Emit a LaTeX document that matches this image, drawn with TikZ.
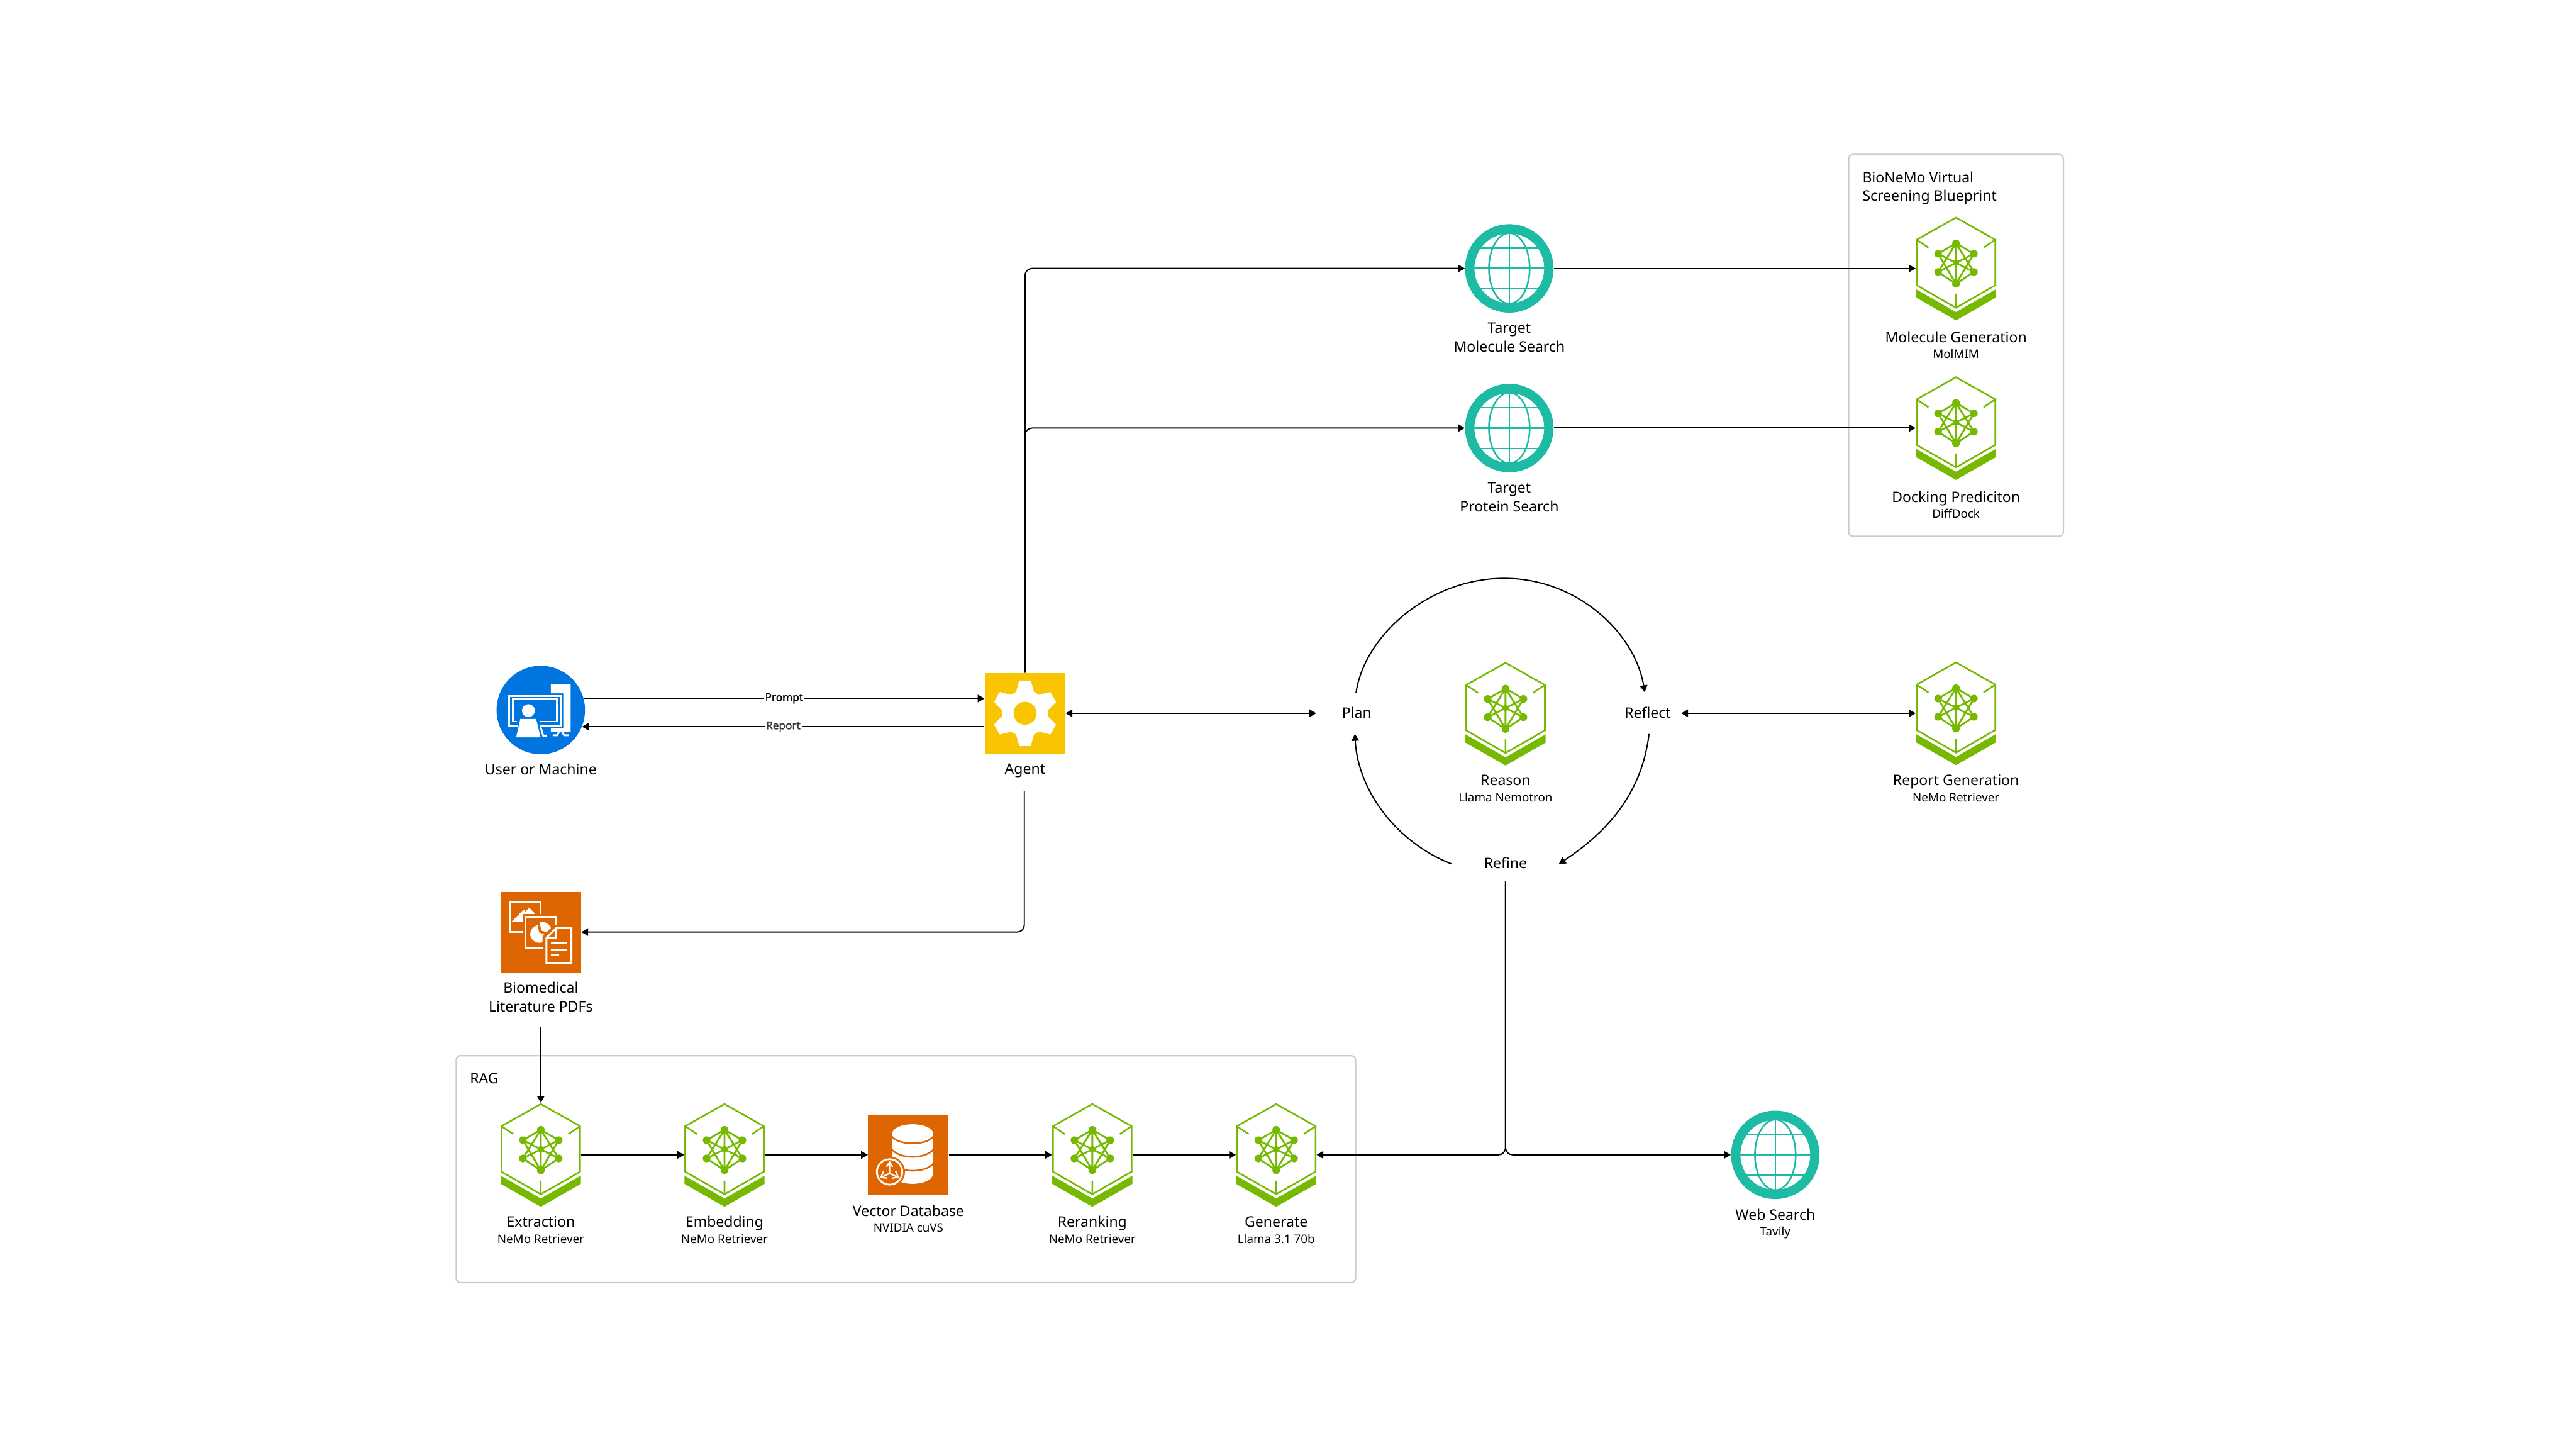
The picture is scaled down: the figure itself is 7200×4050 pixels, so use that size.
\documentclass[tikz,border=0pt]{standalone}
\usepackage{fontspec}
\setmainfont{Noto Sans}
\newfontfamily\edgefont[FakeBold=1.6]{Noto Sans}
\usetikzlibrary{arrows.meta}
\definecolor{nvgreen}{HTML}{76B900}
\definecolor{nvteal}{HTML}{1DBBA4}
\definecolor{nvorange}{HTML}{DF6500}
\definecolor{nvyellow}{HTML}{F9C500}
\definecolor{nvblue}{HTML}{0074DF}
\definecolor{boxgray}{HTML}{CCCCCC}
\tikzset{
  main/.style={font=\fontsize{11.5}{13}\selectfont,anchor=base,inner sep=0pt,text=black},
  sub/.style={font=\fontsize{9.4}{10}\selectfont,anchor=base,inner sep=0pt,text=black},
  grp/.style={font=\fontsize{11.5}{13}\selectfont,anchor=base west,inner sep=0pt,text=black},
  hexn/.style={rectangle,minimum width=2.24cm,minimum height=2.9cm,inner sep=0pt},
  globen/.style={circle,minimum size=2.47cm,inner sep=0pt},
  squaren/.style={rectangle,minimum size=2.25cm,inner sep=0pt},
  grpbox/.style={draw=boxgray,line width=0.04cm,rounded corners=0.12cm},
  arr/.style={draw=black,line width=0.035cm,-{Triangle[length=0.19cm,width=0.21cm]}},
  darr/.style={draw=black,line width=0.035cm,{Triangle[length=0.19cm,width=0.21cm]}-{Triangle[length=0.19cm,width=0.21cm]}},
  edgelab/.style={font=\fontsize{8.6}{10}\selectfont\edgefont,fill=white,inner sep=1pt},
  hexicon/.pic={
    \draw[nvgreen,line width=0.045cm,miter limit=10] (0,-142) -- (110,-80) -- (110,47) -- (0,110) -- (-110,47) -- (-110,-80) -- cycle;
    \draw[nvgreen,line width=0.045cm] (-110,-80) -- (-77,-58) (110,-80) -- (77,-58) (0,72) -- (0,110);
    \fill[nvgreen] (-112,58) -- (0,122) -- (112,58) -- (112,81) -- (0,145) -- (-112,81) -- cycle;
    \draw[nvgreen,line width=0.05cm] (0,-70) -- (0,43) (0,-70) -- (-50,-41) (0,-70) -- (50,-41) (0,-70) -- (-50,10) (0,-70) -- (50,10)
      (0,43) -- (-50,10) (0,43) -- (50,10) (0,43) -- (-50,-41) (0,43) -- (50,-41) (-50,-41) -- (50,10) (50,-41) -- (-50,10);
    \foreach \nx/\ny in {0/-70,-50/-41,50/-41,-50/10,50/10,0/43}{\fill[nvgreen] (\nx,\ny) circle [radius=0.107cm];}
    \fill[nvgreen] (0,-16) circle [radius=0.09cm];
  },
  globeicon/.pic={
    \begin{scope}
      \clip (0,0) circle [radius=1.0cm];
      \draw[nvteal,line width=0.045cm] (-110,0) -- (110,0) (-110,-57) -- (110,-57) (-110,57) -- (110,57) (0,-110) -- (0,110);
      \draw[nvteal,line width=0.045cm] (0,0) ellipse [x radius=0.57cm,y radius=0.985cm];
    \end{scope}
    \draw[nvteal,line width=0.26cm] (0,0) circle [radius=1.105cm];
  },
  gearicon/.pic={
    \fill[white] (-16,-91.3) -- (16,-91.3) -- (25,-59.7) -- (39,-51.3) -- (70.7,-59.3) -- (86.7,-31.7) -- (64,-8.3) -- (64,8.3) -- (86.7,31.7) -- (70.7,59.3) -- (39,51.3) -- (25,59.3) -- (16,91.3) -- (-16,91.3) -- (-25,59.3) -- (-39,51.3) -- (-70.7,59.3) -- (-86.7,31.7) -- (-64,8.3) -- (-64,-8.3) -- (-86.7,-31.7) -- (-70.7,-59.3) -- (-39,-51.3) -- (-25,-59.7) -- cycle;
    \fill[nvyellow] (0,0) circle [radius=0.32cm];
  },
  usericon/.pic={
    \begin{scope}[x=0.00333cm,y=-0.00333cm,shift={(-484,-462)}]
      \fill[white] (568,247) -- (735,247) -- (735,648) -- (568,648) -- (568,612) -- (673,612) -- (673,322) -- (568,322) -- cycle;
      \draw[white,line width=0.05cm] (584,674) -- (622,674) -- (636,648) (664,648) -- (680,674) -- (720,674);
      \draw[white,line width=0.05cm] (288,592) -- (217,592) -- (217,343) -- (652,343) -- (652,592) -- (475,592);
      \draw[white,line width=0.05cm] (284,559) -- (249,559) -- (249,373) -- (620,373) -- (620,559) -- (472,559);
      \draw[white,line width=0.05cm] (480,598) -- (504,677) -- (537,677);
      \fill[white] (380,467) circle [radius=0.18cm];
      \fill[white] (312,537) -- (445,537) -- (482,691) -- (277,691) -- cycle;
    \end{scope}
  },
  docicon/.pic={
    \begin{scope}[x=0.00333cm,y=-0.00333cm,shift={(-484.5,-462.5)}]
      \draw[white,line width=0.05cm] (331,462) -- (226,462) -- (226,206) -- (484,206) -- (484,310);
      \fill[white] (240,375) -- (340,275) -- (356,290) -- (386,258) -- (438,310) -- (331,310) -- (331,375) -- cycle;
      \draw[white,line width=0.05cm] (508,592) -- (355,592) -- (355,335) -- (613,335) -- (613,405);
      \fill[white] (458,405) .. controls (420,412) and (396,442) .. (396,478) .. controls (396,520) and (430,552) .. (470,552) .. controls (480,552) and (490,551) .. (498,548) -- (500,490) -- (513,482) -- (470,465) -- cycle;
      \fill[white] (474,381) .. controls (520,370) and (555,392) .. (569,428) -- (533,463) -- (490,450) -- cycle;
      \draw[white,line width=0.05cm,fill=nvorange] (532,510) -- (532,720) -- (742,720) -- (742,430) -- (613,430) -- cycle;
      \draw[white,line width=0.05cm] (613,430) -- (613,510) -- (532,510);
      \draw[white,line width=0.053cm] (571,559) -- (700,559) (571,607) -- (700,607) (571,655) -- (636,655);
    \end{scope}
  },
  dbicon/.pic={
    \begin{scope}[x=0.00333cm,y=-0.00333cm,shift={(-416,-410)}]
      \fill[white] (281,229) .. controls (281,187) and (357,153) .. (451.5,153) .. controls (546,153) and (622,187) .. (622,229)
        -- (622,570) .. controls (622,616) and (546,653) .. (451.5,653) .. controls (357,653) and (281,616) .. (281,570) -- cycle;
      \draw[nvorange,line width=0.045cm] (275,254) .. controls (310,298) and (380,313) .. (451.5,313) .. controls (523,313) and (593,298) .. (628,254);
      \draw[nvorange,line width=0.045cm] (275,362) .. controls (310,406) and (380,427) .. (451.5,427) .. controls (523,427) and (593,406) .. (628,362);
      \draw[nvorange,line width=0.045cm] (275,480) .. controls (310,524) and (380,543) .. (451.5,543) .. controls (523,543) and (593,524) .. (628,480);
      \fill[nvorange] (258,553) circle [radius=0.43cm];
      \draw[white,line width=0.05cm] (258,553) circle [radius=0.355cm];
      \draw[white,line width=0.04cm] (258,565) -- (258,470) (232,510) -- (258,470) -- (284,510)
        (258,565) -- (190,598) (207,548) -- (186,598) -- (236,605)
        (258,565) -- (326,598) (309,548) -- (330,598) -- (280,605);
    \end{scope}
  },
}
\begin{document}
\begin{tikzpicture}[x=0.01cm,y=-0.01cm]
\useasboundingbox (0,0) rectangle (7200,4050);
\fill[white] (0,0) rectangle (7200,4050);

% group boxes
\node[grpbox,rectangle,minimum width=6cm,minimum height=10.66cm,inner sep=0pt] (biobox) at (5467,965) {};
\node[grpbox,rectangle,minimum width=25.12cm,minimum height=6.34cm,inner sep=0pt] (ragbox) at (2532,3267) {};
\node[grp] (biot1) at (5205,510) {BioNeMo Virtual};
\node[grp] (biot2) at (5205,562) {Screening Blueprint};
\node[grp] (ragt) at (1313,3028) {RAG};

% user
\node[globen,fill=nvblue] (user) at (1511.5,1984) {};
\pic at (user) {usericon};
\node[main] (userl) at (1511.5,2165) {User or Machine};

% agent
\node[squaren,fill=nvyellow] (agent) at (2865,1993) {};
\pic at (agent) {gearicon};
\node[main] (agentl) at (2865,2163) {Agent};
\coordinate (agentlow) at (2863,2211);

% pdf
\node[squaren,fill=nvorange] (pdf) at (1511.5,2604.5) {};
\pic at (pdf) {docicon};
\node[main] (pdfl1) at (1511.5,2775) {Biomedical};
\node[main] (pdfl2) at (1511.5,2828) {Literature PDFs};
\coordinate (pdflow) at (1511,2870);

% web tools
\node[globen] (tmol) at (4218.5,750) {};
\pic at (tmol) {globeicon};
\node[main] (tmoll1) at (4218.5,931) {Target};
\node[main] (tmoll2) at (4218.5,984) {Molecule Search};
\node[globen] (tpro) at (4218.5,1196) {};
\pic at (tpro) {globeicon};
\node[main] (tprol1) at (4218.5,1377) {Target};
\node[main] (tprol2) at (4218.5,1430) {Protein Search};
\node[globen] (web) at (4962,3227) {};
\pic at (web) {globeicon};
\node[main] (webl) at (4962,3409) {Web Search};
\node[sub] (webs) at (4962,3453) {Tavily};

% blueprint
\node[hexn] (molgen) at (5467,750) {};
\pic at (molgen) {hexicon};
\node[main] (molgenl) at (5467,957) {Molecule Generation};
\node[sub] (molgens) at (5467,1001) {MolMIM};
\node[hexn] (dock) at (5467,1196) {};
\pic at (dock) {hexicon};
\node[main] (dockl) at (5467,1403) {Docking Prediciton};
\node[sub] (docks) at (5467,1447) {DiffDock};

% reasoning loop
\node[main] (plan) at (3792,2007) {Plan};
\node[main] (reflect) at (4605.5,2007) {Reflect};
\node[main] (refine) at (4208,2426) {Refine};
\node[hexn] (reason) at (4208,1994) {};
\pic at (reason) {hexicon};
\node[main] (reasonl) at (4208,2195) {Reason};
\node[sub] (reasons) at (4208,2241) {Llama Nemotron};
\node[hexn] (report) at (5467,1993) {};
\pic at (report) {hexicon};
\node[main] (reportl) at (5467,2195) {Report Generation};
\node[sub] (reports) at (5467,2241) {NeMo Retriever};

\coordinate (planw) at (3679,1993);
\coordinate (refle) at (4699,1993);
\coordinate (planN) at (3790,1936);
\coordinate (planS) at (3787,2051);
\coordinate (reflN) at (4597,1934);
\coordinate (reflS) at (4609,2051);
\coordinate (refiL) at (4057,2414);
\coordinate (refiR) at (4357,2414);
\coordinate (loopT) at (4204,1616);
\coordinate (refiB) at (4208,2462);

% RAG row
\node[hexn] (extr) at (1511.5,3227) {};
\pic at (extr) {hexicon};
\node[main] (extrl) at (1511.5,3429) {Extraction};
\node[sub] (extrs) at (1511.5,3474) {NeMo Retriever};
\node[hexn] (embed) at (2025,3227) {};
\pic at (embed) {hexicon};
\node[main] (embedl) at (2025,3429) {Embedding};
\node[sub] (embeds) at (2025,3474) {NeMo Retriever};
\node[squaren,fill=nvorange] (vdb) at (2539,3227) {};
\pic at (vdb) {dbicon};
\node[main] (vdbl) at (2539,3398) {Vector Database};
\node[sub] (vdbs) at (2539,3442) {NVIDIA cuVS};
\node[hexn] (rerank) at (3053,3227) {};
\pic at (rerank) {hexicon};
\node[main] (rerankl) at (3053,3429) {Reranking};
\node[sub] (reranks) at (3053,3474) {NeMo Retriever};
\node[hexn] (gen) at (3567,3227) {};
\pic at (gen) {hexicon};
\node[main] (genl) at (3567,3429) {Generate};
\node[sub] (gens) at (3567,3474) {Llama 3.1 70b};

% connectors
\draw[arr] (user.15.8) -- node[edgelab,text=black] (promptl) {Prompt} (user.15.8 -| agent.west);
\draw[arr] (user.-22.4 -| agent.west) -- node[edgelab,text=black!78] (reportel) {Report} (user.-22.4);
\draw[arr,rounded corners=0.2cm] (agent.north) |- (tmol.west);
\draw[arr,rounded corners=0.2cm] (agent.north) |- (tpro.west);
\draw[arr] (tmol.east) -- (molgen.west);
\draw[arr] (tpro.east) -- (dock.west);
\draw[darr] (agent.east) -- (planw);
\draw[darr] (refle) -- (report.west);
\draw[arr,rounded corners=0.2cm] (agentlow) |- (pdf.east);
\draw[arr] (pdflow) -- (extr.north);
\draw[arr] (extr.east) -- (embed.west);
\draw[arr] (embed.east) -- (vdb.west);
\draw[arr] (vdb.east) -- (rerank.west);
\draw[arr] (rerank.east) -- (gen.west);
\draw[arr,rounded corners=0.2cm] (refiB) |- (gen.east);
\draw[arr,rounded corners=0.2cm] (refiB) |- (web.west);
\draw[arr] (planN) .. controls (3815,1770) and (4000,1616) .. (loopT) .. controls (4410,1616) and (4570,1770) .. (reflN);
\draw[arr] (reflS) .. controls (4590,2210) and (4500,2320) .. (refiR);
\draw[arr] (refiL) .. controls (3905,2355) and (3795,2210) .. (planS);
\end{tikzpicture}
\end{document}
